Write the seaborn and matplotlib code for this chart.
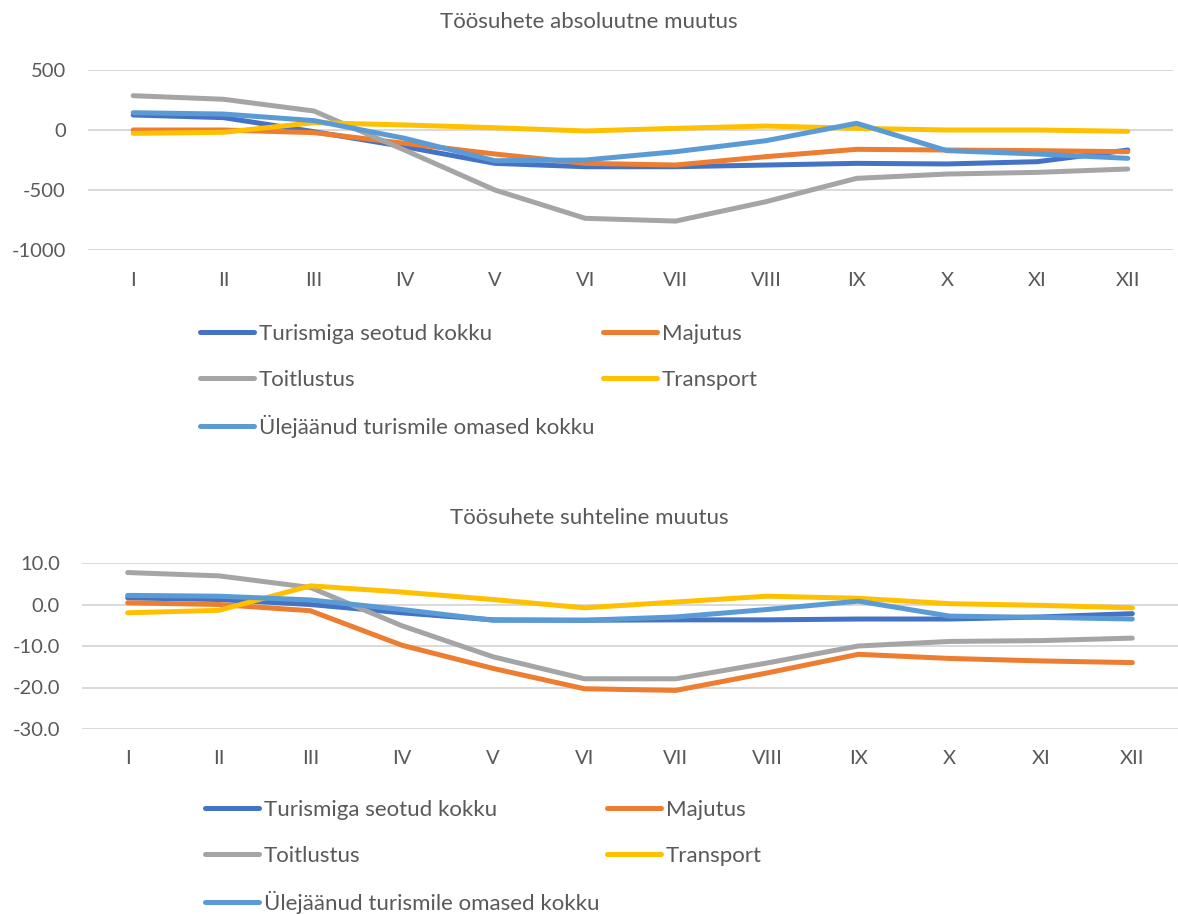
import matplotlib
matplotlib.use("Agg")
import matplotlib.pyplot as plt
import pandas as pd
import seaborn as sns

months = ["I", "II", "III", "IV", "V", "VI", "VII", "VIII", "IX", "X", "XI", "XII"]
series = ["Turismiga seotud kokku", "Majutus", "Toitlustus", "Transport",
          "Ülejäänud turismile omased kokku"]
colors = ["#4472C4", "#ED7D31", "#A5A5A5", "#FFC000", "#5B9BD5"]

# absoluutne muutus
abs_turism = [125, 103, -14, -139, -278, -306, -306, -292, -278, -283, -264, -167]
abs_majutus = [0, 0, -22, -111, -200, -278, -292, -222, -161, -167, -172, -181]
abs_toitlustus = [286, 256, 158, -167, -500, -736, -759, -597, -403, -367, -353, -325]
abs_transport = [-28, -19, 61, 42, 19, -8, 14, 33, 14, 0, 0, -11]
abs_ulejaanud = [144, 133, 78, -69, -256, -250, -181, -89, 56, -172, -200, -236]

# suhteline muutus
rel_turism = [1.6, 1.2, 0.0, -2.0, -3.7, -3.8, -3.7, -3.7, -3.5, -3.5, -3.0, -2.2]
rel_majutus = [0.4, 0.0, -1.5, -9.8, -15.4, -20.3, -20.7, -16.5, -12.0, -13.0, -13.6, -14.0]
rel_toitlustus = [7.7, 6.9, 4.1, -5.1, -12.6, -17.9, -17.9, -14.1, -10.0, -8.9, -8.7, -8.1]
rel_transport = [-2.0, -1.4, 4.5, 3.0, 1.2, -0.8, 0.6, 2.0, 1.5, 0.2, -0.2, -0.8]
rel_ulejaanud = [2.2, 2.0, 1.1, -1.2, -3.8, -3.8, -3.0, -1.2, 0.8, -2.8, -3.1, -3.5]

sns.set_style("white")
plt.rcParams["font.family"] = ["Lato", "DejaVu Sans"]
plt.rcParams["axes.unicode_minus"] = False

TXT = "#595959"
GRID = "#D9D9D9"
FS = 14.5
LFS = 16


def long_df(vals):
    rows = []
    for name, v in zip(series, vals):
        for m, y in zip(months, v):
            rows.append({"month": m, "value": y, "series": name})
    return pd.DataFrame(rows)


def add_legend(idx, left, top):
    handles = [plt.Line2D([], [], color=colors[i], linewidth=3.6,
                          solid_capstyle="round") for i in idx]
    labels = [series[i] for i in idx]
    fig.legend(handles, labels, loc="upper left",
               bbox_to_anchor=(left, top), bbox_transform=fig.transFigure,
               frameon=False, fontsize=LFS, labelcolor=TXT, handlelength=2.45,
               handletextpad=0.2, labelspacing=1.15,
               borderpad=0, borderaxespad=0)


def draw(ax, df, ylim, yticks, fmt, title, title_y, leg_top, leg_left, leg_left2, xlab_pad):
    sns.lineplot(data=df, x="month", y="value", hue="series", hue_order=series,
                 palette=colors, linewidth=3.6, sort=False, legend=False, ax=ax)
    for ln in ax.get_lines():
        ln.set_solid_capstyle("round")
        ln.set_solid_joinstyle("round")
    ax.set_xlim(-0.5, 11.5)
    ax.set_ylim(*ylim)
    ax.set_yticks(yticks)
    ax.set_yticklabels([fmt(v) for v in yticks])
    ax.set_xlabel("")
    ax.set_ylabel("")
    for s in ax.spines.values():
        s.set_visible(False)
    ax.grid(axis="y", color=GRID, linewidth=1.4)
    ax.set_axisbelow(True)
    ax.tick_params(axis="both", length=0, labelsize=FS, labelcolor=TXT)
    ax.tick_params(axis="y", pad=16)
    ax.tick_params(axis="x", pad=xlab_pad)
    fig.text(0.5, title_y, title, ha="center", va="center", fontsize=16, color=TXT)

    add_legend([0, 2, 4], leg_left, leg_top)
    add_legend([1, 3], leg_left2, leg_top)


fig = plt.figure(figsize=(11.78, 9.14), dpi=100)

ax1 = fig.add_axes([88 / 1178, 1 - 250 / 914, 1085 / 1178, 180 / 914])
draw(ax1, long_df([abs_turism, abs_majutus, abs_toitlustus, abs_transport, abs_ulejaanud]),
     (-1000, 500), [-1000, -500, 0, 500], lambda v: f"{v:.0f}",
     "Töösuhete absoluutne muutus", 1 - 22 / 914,
     1 - 324 / 914, 200 / 1178, 603 / 1178, 16)

ax2 = fig.add_axes([82 / 1178, 1 - 729 / 914, 1096 / 1178, 166 / 914])
draw(ax2, long_df([rel_turism, rel_majutus, rel_toitlustus, rel_transport, rel_ulejaanud]),
     (-30, 10), [-30, -20, -10, 0, 10], lambda v: f"{v:.1f}",
     "Töösuhete suhteline muutus", 1 - 518 / 914,
     1 - 800 / 914, 205 / 1178, 607 / 1178, 15)

fig.savefig("out.png", dpi=100, facecolor="white")
